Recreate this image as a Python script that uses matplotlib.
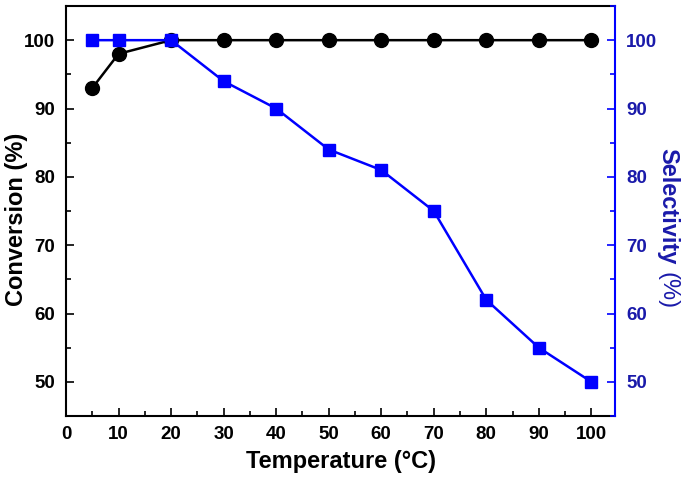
import matplotlib

matplotlib.use("Agg")
import matplotlib.pyplot as plt
from matplotlib.ticker import MultipleLocator

plt.rcParams["font.family"] = ["Liberation Sans", "DejaVu Sans"]
plt.rcParams["font.weight"] = "bold"

temperature = [5, 10, 20, 30, 40, 50, 60, 70, 80, 90, 100]
conversion = [93, 98, 100, 100, 100, 100, 100, 100, 100, 100, 100]
selectivity = [100, 100, 100, 94, 90, 84, 81, 75, 62, 55, 50]

BLUE = "#0000ff"
DARK_BLUE = "#1a1aaa"

fig = plt.figure(figsize=(6.85, 4.8), dpi=100)
ax = fig.add_axes([0.0964, 0.1333, 0.8014, 0.8542])
ax2 = ax.twinx()

ax.plot(temperature, conversion, color="black", lw=1.8, marker="o", ms=10, zorder=3)
ax2.plot(temperature, selectivity, color=BLUE, lw=1.8, marker="s", ms=8.5, zorder=3)

ax.set_xlim(0, 104.5)
ax.set_ylim(45, 105)
ax2.set_ylim(45, 105)

ax.xaxis.set_major_locator(MultipleLocator(10))
ax.xaxis.set_minor_locator(MultipleLocator(5))
for a in (ax, ax2):
    a.yaxis.set_major_locator(MultipleLocator(10))
    a.yaxis.set_minor_locator(MultipleLocator(5))
    a.set_yticks([50, 60, 70, 80, 90, 100])

ax.tick_params(axis="both", which="both", direction="in", labelsize=13.5, width=1.2)
ax.tick_params(axis="both", which="major", length=6)
ax.tick_params(axis="both", which="minor", length=3.5)
ax.tick_params(axis="x", pad=7)
ax.tick_params(axis="y", pad=8)
ax.tick_params(top=False, right=False, which="both")

ax2.tick_params(axis="y", which="both", direction="in", labelsize=13.5, width=1.2,
                color=BLUE, labelcolor=DARK_BLUE, pad=8)
ax2.tick_params(axis="y", which="major", length=6)
ax2.tick_params(axis="y", which="minor", length=3.5)

for s in ax.spines.values():
    s.set_linewidth(1.5)
for name, s in ax2.spines.items():
    s.set_linewidth(1.5)
    if name != "right":
        s.set_visible(False)
ax2.spines["right"].set_color(BLUE)
ax.spines["right"].set_visible(False)

ax.set_xlabel("Temperature (\u00b0C)", fontsize=17, fontweight="bold", labelpad=5)

fig.text(0.024, 0.542, "Conversion (%)", rotation=90, ha="center", va="center",
         fontsize=17, fontweight="bold")
fig.text(0.975, 0.692, "Selectivity", rotation=270, ha="center", va="top",
         fontsize=17, fontweight="bold", color=DARK_BLUE)
fig.text(0.975, 0.434, "(%)", rotation=270, ha="center", va="top",
         fontsize=17, fontweight="normal", color=DARK_BLUE)

fig.savefig("out.png", dpi=100)
plt.close(fig)
